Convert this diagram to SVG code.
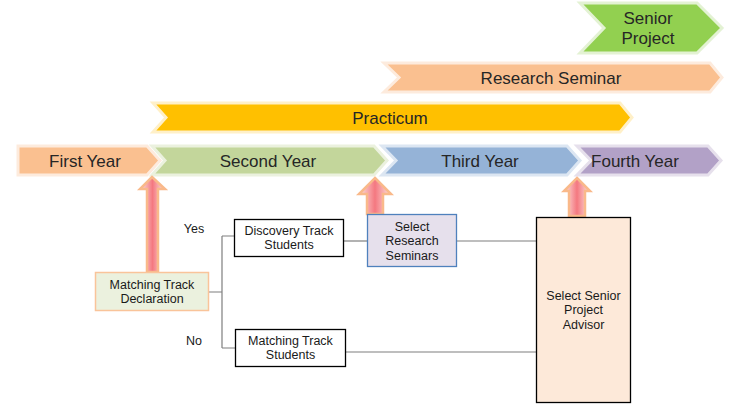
<svg xmlns="http://www.w3.org/2000/svg" width="740" height="405" viewBox="0 0 740 405">
<style>
.big{font-family:"Liberation Sans",Arial,sans-serif;font-size:17px;fill:#262626;text-anchor:middle}
.sm{font-family:"Liberation Sans",Arial,sans-serif;font-size:12.5px;fill:#1a1a1a;text-anchor:middle}
.chev{stroke-width:3;stroke-linejoin:miter}
.box{stroke:#000;stroke-width:1.3}
.conn{fill:none;stroke:#7f7f7f;stroke-width:1.2}
.arr{stroke:#F9B98A;stroke-width:2.5;stroke-linejoin:miter}
</style>
<defs>
<linearGradient id="ag" x1="0" y1="0" x2="1" y2="0">
<stop offset="0" stop-color="#FCE4E0"/>
<stop offset="0.5" stop-color="#F47880"/>
<stop offset="1" stop-color="#FCE4E0"/>
</linearGradient>
</defs>
<rect width="740" height="405" fill="#fff"/>
<g id="senior-project">
<path class="chev" d="M580,3 L697,3 L722,28 L697,53 L580,53 L604,28 Z" fill="#92D050" stroke="#E3F2D3"/>
<text class="big" x="648" y="24">Senior</text>
<text class="big" x="648" y="44">Project</text>
</g>
<g id="research-seminar">
<path class="chev" d="M384,63 L710,63 L722,77.5 L710,92 L384,92 L399,77.5 Z" fill="#FAC090" stroke="#FDEBDD"/>
<text class="big" x="551" y="83.5">Research Seminar</text>
</g>
<g id="practicum">
<path class="chev" d="M153,103 L620,103 L632,117.5 L620,132 L153,132 L166,117.5 Z" fill="#FFC000" stroke="#FFF0C8"/>
<text class="big" x="390" y="123.5">Practicum</text>
</g>
<g id="first-year">
<path class="chev" d="M18,146 L147,146 L160,160.5 L147,175 L18,175 Z" fill="#FAC090" stroke="#FDEBDD"/>
<text class="big" x="85" y="166.5">First Year</text>
</g>
<g id="second-year">
<path class="chev" d="M152,146 L374,146 L387,160.5 L374,175 L152,175 L165,160.5 Z" fill="#C3D69B" stroke="#EBF1DE"/>
<text class="big" x="268" y="166.5">Second Year</text>
</g>
<g id="third-year">
<path class="chev" d="M382,146 L567,146 L580,160.5 L567,175 L382,175 L396,160.5 Z" fill="#95B3D7" stroke="#DCE6F2"/>
<text class="big" x="480" y="166.5">Third Year</text>
</g>
<g id="fourth-year">
<path class="chev" d="M577,146 L708,146 L721,160.5 L708,175 L577,175 L591,160.5 Z" fill="#B2A1C7" stroke="#E6E0EC"/>
<text class="big" x="635" y="166.5">Fourth Year</text>
</g>
<g id="connectors">
<path class="conn" d="M209,292 H222 M222,236 V348 M222,236 H234 M222,348 H235"/>
<path class="conn" d="M344,241 H367"/>
<path class="conn" d="M457,241 H536"/>
<path class="conn" d="M346,352 H536"/>
<path class="arr" d="M152,177 L165,189 L158,189 L158,272 L147,272 L147,189 L140,189 Z" fill="url(#ag)"/>
<path class="arr" d="M375,178 L391,194 L383,194 L383,214 L367,214 L367,194 L359,194 Z" fill="url(#ag)"/>
<path class="arr" d="M577,178 L590,191 L585,191 L585,216 L569,216 L569,191 L564,191 Z" fill="url(#ag)"/>
</g>
<g id="yes-label"><text class="sm" x="194" y="233">Yes</text></g>
<g id="no-label"><text class="sm" x="194" y="345">No</text></g>
<g id="matching-track-declaration">
<rect x="95.5" y="272.5" width="113" height="38" fill="#EBF1DE" stroke="#F9C49A" stroke-width="1.5"/>
<text class="sm" x="152" y="289">Matching Track</text>
<text class="sm" x="152" y="303">Declaration</text>
</g>
<g id="discovery-track-students">
<rect class="box" x="234.5" y="219.5" width="109" height="37" fill="#fff"/>
<text class="sm" x="289" y="235">Discovery Track</text>
<text class="sm" x="289" y="249">Students</text>
</g>
<g id="matching-track-students">
<rect class="box" x="235.5" y="329.5" width="110" height="37" fill="#fff"/>
<text class="sm" x="290.5" y="345">Matching Track</text>
<text class="sm" x="290.5" y="359">Students</text>
</g>
<g id="select-research-seminars">
<rect x="367.5" y="214.5" width="89" height="52" fill="#E6E0EC" stroke="#4F81BD" stroke-width="1.3"/>
<text class="sm" x="412" y="231">Select</text>
<text class="sm" x="412" y="245">Research</text>
<text class="sm" x="412" y="260">Seminars</text>
</g>
<g id="select-senior-project-advisor">
<rect class="box" x="536.5" y="217.5" width="94" height="185" fill="#FDE9D9"/>
<text class="sm" x="583.5" y="300">Select Senior</text>
<text class="sm" x="583.5" y="314">Project</text>
<text class="sm" x="583.5" y="329">Advisor</text>
</g>
</svg>
